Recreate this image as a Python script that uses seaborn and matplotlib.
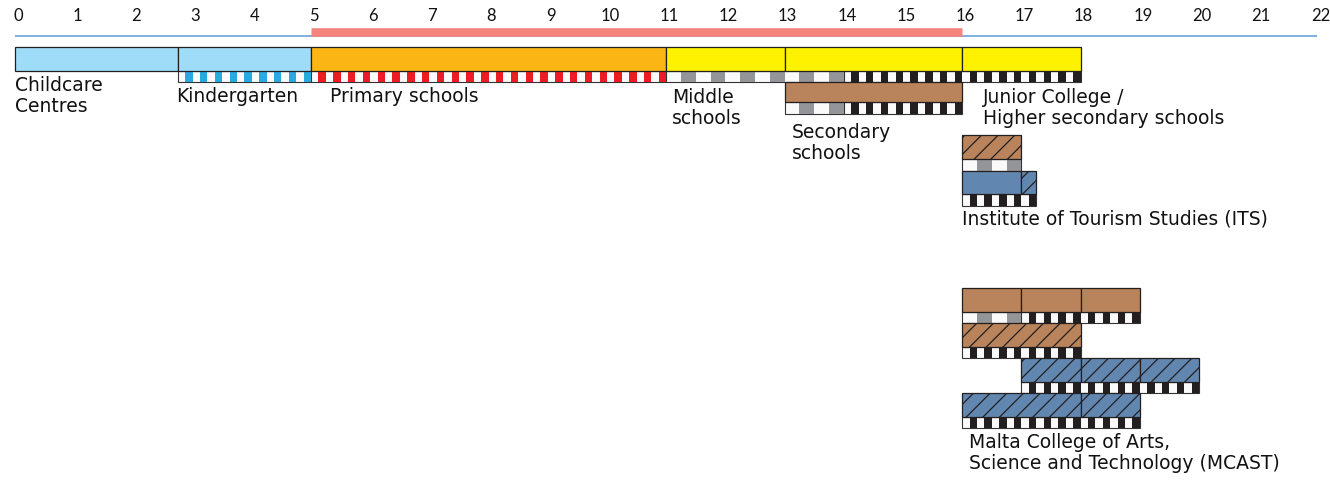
import numpy as np
import matplotlib.pyplot as plt
import seaborn as sns

# Structure of the Maltese education system (ages 0-22)

sns.set_theme(style="white")
plt.rcParams['font.family'] = ['DejaVu Sans']
plt.rcParams['hatch.linewidth'] = 0.9

# colours
fills = {'sky': '#9edcf7', 'orange': '#fbb616', 'yellow': '#fff200',
         'brown': '#b9835b', 'steel': '#6186b0'}
marks = {'blue': '#27a9e1', 'red': '#ed1c24', 'grey': '#939598', 'black': '#231f20'}
mark_period = {'blue': 0.25, 'red': 0.25, 'grey': 0.5, 'black': 0.25}

# age axis
ages = list(range(23))
compulsory = (5, 16)

# main track
main_box_start = [0, 2.75, 5, 11, 13, 16]
main_box_end = [2.75, 5, 11, 13, 16, 18]
main_box_fill = ['sky', 'sky', 'orange', 'yellow', 'yellow', 'yellow']
main_strip_start = [2.75, 5, 11, 14]
main_strip_end = [5, 11, 14, 18]
main_strip_mark = ['blue', 'red', 'grey', 'black']

# secondary schools
sec_box_start = [13]
sec_box_end = [16]
sec_box_fill = ['brown']
sec_strip_start = [13, 14]
sec_strip_end = [14, 16]
sec_strip_mark = ['grey', 'black']

# ITS
its1_box_start = [16]
its1_box_end = [17]
its1_box_fill = ['brown/']
its1_strip_start = [16]
its1_strip_end = [17]
its1_strip_mark = ['grey']

its2_box_start = [16, 17]
its2_box_end = [17, 17.25]
its2_box_fill = ['steel', 'steel/']
its2_strip_start = [16]
its2_strip_end = [17.25]
its2_strip_mark = ['black']

# MCAST
m1_box_start = [16, 17, 18]
m1_box_end = [17, 18, 19]
m1_box_fill = ['brown', 'brown', 'brown']
m1_strip_start = [16, 17]
m1_strip_end = [17, 19]
m1_strip_mark = ['grey', 'black']

m2_box_start = [16]
m2_box_end = [18]
m2_box_fill = ['brown/']
m2_strip_start = [16]
m2_strip_end = [18]
m2_strip_mark = ['black']

m3_box_start = [17, 18, 19]
m3_box_end = [18, 19, 20]
m3_box_fill = ['steel/', 'steel/', 'steel/']
m3_strip_start = [17]
m3_strip_end = [20]
m3_strip_mark = ['black']

m4_box_start = [16, 18]
m4_box_end = [18, 19]
m4_box_fill = ['steel/', 'steel/']
m4_strip_start = [16]
m4_strip_end = [19]
m4_strip_mark = ['black']

# labels
label_text = ['Childcare\nCentres', 'Kindergarten', 'Primary schools', 'Middle\nschools',
              'Secondary\nschools', 'Junior College /\nHigher secondary schools',
              'Institute of Tourism Studies (ITS)',
              'Malta College of Arts,\nScience and Technology (MCAST)']
label_age = [0, 2.72, 5.32, 11.1, 13.12, 16.35, 16.0, 16.11]
label_y = [96, 96, 96, 108, 143, 108, 219, 453]

fig = plt.figure(figsize=(13.3, 4.8), dpi=100)
ax = fig.add_axes([0, 0, 1, 1])
ax.set_xlim(-15 / 59.2, 1315 / 59.2)
ax.set_ylim(480, 0)
ax.axis('off')


def draw_boxes(top, h, starts, ends, kinds):
    for s, e, k in zip(starts, ends, kinds):
        hatch = '//' if k.endswith('/') else None
        ax.barh(top + h / 2, e - s, left=s, height=h, color=fills[k.rstrip('/')],
                edgecolor='#231f20', linewidth=0.9, hatch=hatch, zorder=3)


def draw_strip(top, h, starts, ends, kinds):
    for s, e, k in zip(starts, ends, kinds):
        p = mark_period[k]
        ax.barh(top + h / 2, e - s, left=s, height=h, color='#fafafa',
                edgecolor='#333333', linewidth=0.8, zorder=2)
        lefts = np.arange(s + p / 2, e - 1e-6, p)
        widths = np.minimum(p / 2, e - lefts)
        ax.barh(np.full(len(lefts), top + h / 2), widths, left=lefts, height=h,
                color=marks[k], linewidth=0, zorder=2.5)


# age scale and compulsory schooling bar
for a in ages:
    ax.text(a + 0.05, 16, str(a), ha='center', va='center', fontsize=12,
            family=['Lato', 'DejaVu Sans'], color='#111111')
ax.hlines(36, ages[0], ages[-1], color='#5b9bd5', linewidth=1.1)
ax.hlines(31.5, compulsory[0], compulsory[1], color='#f4837e', linewidth=6.2)

draw_boxes(47, 24, main_box_start, main_box_end, main_box_fill)
draw_strip(71, 11, main_strip_start, main_strip_end, main_strip_mark)

draw_boxes(82, 20, sec_box_start, sec_box_end, sec_box_fill)
draw_strip(102, 12, sec_strip_start, sec_strip_end, sec_strip_mark)

draw_boxes(135, 24, its1_box_start, its1_box_end, its1_box_fill)
draw_strip(159, 12, its1_strip_start, its1_strip_end, its1_strip_mark)
draw_boxes(171, 23, its2_box_start, its2_box_end, its2_box_fill)
draw_strip(194, 12, its2_strip_start, its2_strip_end, its2_strip_mark)

draw_boxes(288, 24, m1_box_start, m1_box_end, m1_box_fill)
draw_strip(312, 11, m1_strip_start, m1_strip_end, m1_strip_mark)
draw_boxes(323, 24, m2_box_start, m2_box_end, m2_box_fill)
draw_strip(347, 11, m2_strip_start, m2_strip_end, m2_strip_mark)
draw_boxes(358, 24, m3_box_start, m3_box_end, m3_box_fill)
draw_strip(382, 11, m3_strip_start, m3_strip_end, m3_strip_mark)
draw_boxes(393, 24, m4_box_start, m4_box_end, m4_box_fill)
draw_strip(417, 11, m4_strip_start, m4_strip_end, m4_strip_mark)

for t, a, y in zip(label_text, label_age, label_y):
    ax.text(a, y, t, ha='left', va='center', fontsize=13.5, color='#111111',
            family=['DejaVu Sans'], linespacing=1.12)

fig.savefig('out.png', dpi=100)
